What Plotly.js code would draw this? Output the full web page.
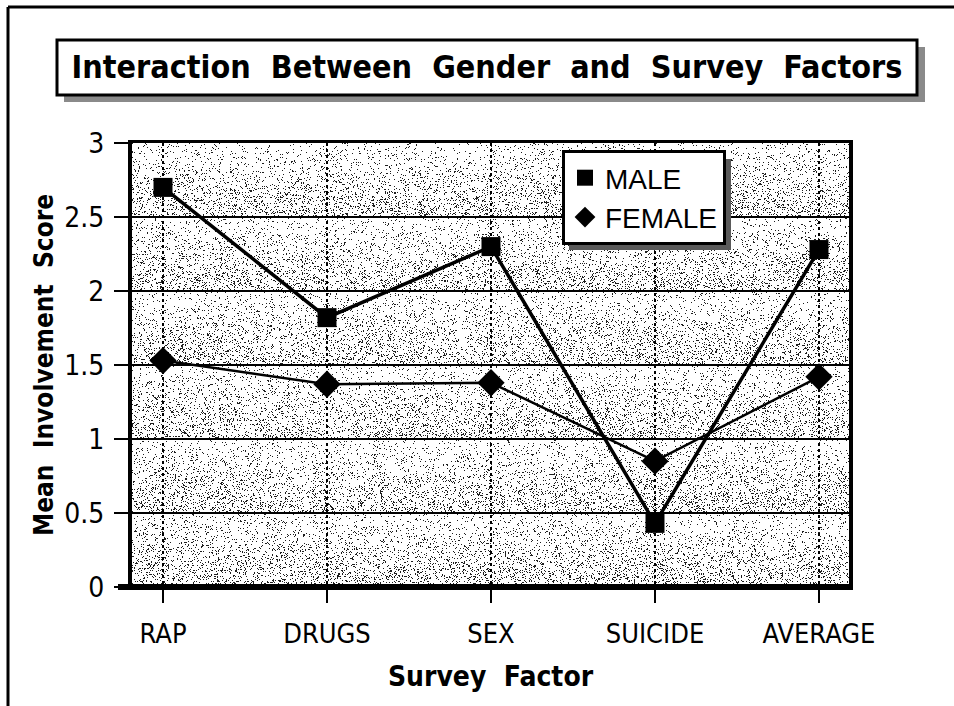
<!DOCTYPE html>
<html>
<head>
<meta charset="utf-8">
<script src="https://cdn.plot.ly/plotly-3.0.1.min.js"></script>
<style>html,body{margin:0;padding:0;background:#fff;}#chart{width:954px;height:706px;}</style>
</head>
<body>
<div id="chart"></div>
<script>
const categories = ["RAP", "DRUGS", "SEX", "SUICIDE", "AVERAGE"];
const maleScores = [2.70, 1.82, 2.30, 0.43, 2.28];
const femaleScores = [1.53, 1.37, 1.38, 0.85, 1.42];
const yTickValues = [0, 0.5, 1, 1.5, 2, 2.5, 3];
const yTickLabels = ["0", "0.5", "1", "1.5", "2", "2.5", "3"];

const NARROW = "DejaVu Sans Condensed, Liberation Sans Narrow, Arial Narrow, sans-serif";
const BOLD = "DejaVu Sans Condensed, Liberation Sans Narrow, Arial Narrow, sans-serif";
const REGULAR = "Liberation Sans, Arial, Helvetica, sans-serif";

// stipple background texture (deterministic, decorative only)
function makeStipple(w, h) {
  const c = document.createElement('canvas');
  c.width = w; c.height = h;
  const ctx = c.getContext('2d');
  ctx.fillStyle = '#ffffff';
  ctx.fillRect(0, 0, w, h);
  const img = ctx.getImageData(0, 0, w, h);
  const band = h / 6;
  for (let y = 0; y < h; y++) {
    const f = (y % band) / band;
    const dens = 0.05 + 0.13 * f;
    for (let x = 0; x < w; x++) {
      let n = (x * 374761393 + y * 668265263) >>> 0;
      n = ((n ^ (n >>> 13)) * 1274126177) >>> 0;
      n = (n ^ (n >>> 16)) >>> 0;
      if ((n % 10000) / 10000 < dens) {
        const i = (y * w + x) * 4;
        img.data[i] = 30; img.data[i + 1] = 30; img.data[i + 2] = 30;
      }
    }
  }
  ctx.putImageData(img, 0, 0);
  return c.toDataURL('image/png');
}

const traces = [
  {x: categories, y: maleScores, mode: 'lines+markers', name: 'MALE', showlegend: false,
   line: {color: '#000', width: 3.5}, marker: {symbol: 'square', size: 19, color: '#000'}},
  {x: categories, y: femaleScores, mode: 'lines+markers', name: 'FEMALE', showlegend: false,
   line: {color: '#000', width: 2.5}, marker: {symbol: 'diamond', size: 21, color: '#000'}},
  {x: [null], y: [null], mode: 'markers', name: 'MALE', showlegend: true,
   marker: {symbol: 'square', size: 16, color: '#000'}},
  {x: [null], y: [null], mode: 'markers', name: 'FEMALE', showlegend: true,
   marker: {symbol: 'diamond', size: 16, color: '#000'}}
];

const L = 132, R = 849, T = 143, B = 587;
const W = R - L, H = B - T;
const px = v => (v - L) / W;
const py = v => (B - v) / H;

const layout = {
  width: 954, height: 706,
  margin: {l: L, r: 954 - R, t: T, b: 706 - B, pad: 0},
  paper_bgcolor: '#ffffff',
  plot_bgcolor: '#d6d6d6',
  title: {
    text: '<b>Interaction  Between  Gender  and  Survey  Factors</b>',
    font: {family: BOLD, size: 32, color: '#000'},
    x: 487 / 954, xanchor: 'center', xref: 'container',
    y: 1 - 67 / 706, yanchor: 'middle', yref: 'container'
  },
  xaxis: {
    type: 'category', categoryarray: categories, categoryorder: 'array',
    range: [-0.189, 4.183],
    showgrid: true, gridcolor: '#000', gridwidth: 2.5, griddash: 'dot',
    ticks: 'outside', ticklen: 13, tickwidth: 2, tickcolor: '#000',
    showline: true, linecolor: '#000', linewidth: 3, mirror: true,
    zeroline: false,
    tickfont: {family: NARROW, size: 27, color: '#000'},
    ticklabelstandoff: 8,
    title: {text: '<b>Survey  Factor</b>', font: {family: BOLD, size: 28, color: '#000'}, standoff: 18},
    automargin: false, fixedrange: true
  },
  yaxis: {
    range: [0, 3], tickvals: yTickValues, ticktext: yTickLabels,
    showgrid: true, gridcolor: '#000', gridwidth: 2.5,
    ticks: 'outside', ticklen: 14, tickwidth: 2, tickcolor: '#000',
    showline: true, linecolor: '#000', linewidth: 4, mirror: true,
    zeroline: false,
    tickfont: {family: NARROW, size: 28, color: '#000'},
    ticklabelstandoff: 4,
    title: {text: '<b>Mean  Involvement  Score</b>', font: {family: BOLD, size: 26, color: '#000'}, standoff: 4},
    automargin: false, fixedrange: true
  },
  showlegend: true,
  legend: {
    x: px(562), y: py(150), xanchor: 'left', yanchor: 'top',
    bgcolor: '#ffffff', bordercolor: '#000', borderwidth: 3,
    font: {family: REGULAR, size: 28, color: '#000'},
    itemwidth: 30, tracegroupgap: 0, entrywidth: 140
  },
  shapes: [
    // outer page frame
    {type: 'line', xref: 'paper', yref: 'paper', x0: px(8), x1: px(954), y0: py(7), y1: py(7), line: {color: '#000', width: 3}},
    {type: 'line', xref: 'paper', yref: 'paper', x0: px(8), x1: px(8), y0: py(7), y1: py(706), line: {color: '#000', width: 3}},
    // title box shadow + box
    {type: 'rect', xref: 'paper', yref: 'paper', x0: px(64), x1: px(925), y0: py(102), y1: py(47), fillcolor: '#8a8a8a', line: {width: 0}},
    {type: 'rect', xref: 'paper', yref: 'paper', x0: px(57), x1: px(917), y0: py(95), y1: py(40), fillcolor: '#ffffff', line: {color: '#000', width: 3}},
    // legend shadow
    {type: 'rect', xref: 'paper', yref: 'paper', x0: px(569), x1: px(731), y0: py(250), y1: py(159), fillcolor: '#5a5a5a', line: {width: 0}, layer: 'above'},
    // heavy baseline
    {type: 'line', xref: 'paper', yref: 'paper', x0: px(118), x1: px(851), y0: py(587), y1: py(587), line: {color: '#000', width: 6}, layer: 'above'}
  ],
  images: [{
    source: makeStipple(W, H), xref: 'paper', yref: 'paper',
    x: 0, y: 1, sizex: 1, sizey: 1, xanchor: 'left', yanchor: 'top',
    sizing: 'stretch', layer: 'below'
  }]
};

Plotly.newPlot('chart', traces, layout, {displayModeBar: false, staticPlot: true});
</script>
</body>
</html>
